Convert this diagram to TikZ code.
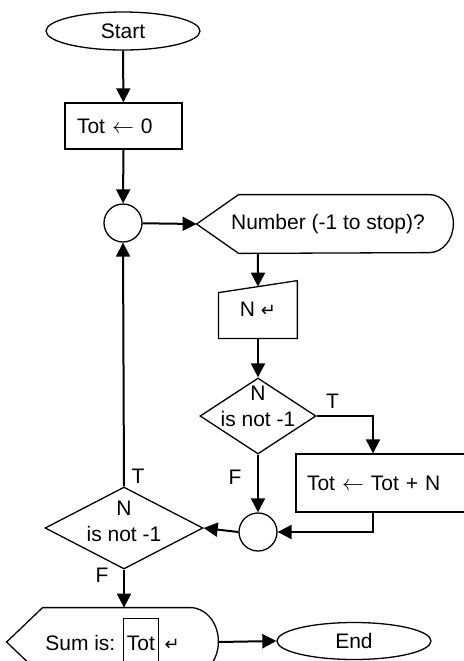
\documentclass[tikz,border=0pt]{standalone}
\usepackage{fontspec}
\setmainfont{Liberation Sans}
\newfontfamily\arrowfont{DejaVu Sans}
\usetikzlibrary{calc,shapes.geometric,arrows.meta}

\newcommand{\enterkey}{{\arrowfont\small ↵}}
\newcommand{\fieldbox}[1]{{\setlength{\fboxsep}{1.5pt}\fbox{\rule[-6pt]{0pt}{20pt}#1}}}

\tikzset{
  flow/.style={line width=1pt, -{Triangle[length=7pt,width=7pt]}},
  outline/.style={line width=0.65pt},
  terminal/.style={ellipse, draw, outline, minimum width=77pt, minimum height=19pt, inner sep=0pt},
  process/.style={rectangle, draw, outline, align=left},
  merge/.style={circle, draw, outline, minimum size=19pt, inner sep=0pt},
  cond/.style={diamond, draw, outline, inner sep=0pt},
  frame/.style={rectangle, inner sep=0pt},
}

\begin{document}
\begin{tikzpicture}[x=0.5pt, y=-0.5pt, font=\fontsize{10.5}{13}\selectfont]
  \useasboundingbox (0,0) rectangle (464,661);
  \clip (0,0) rectangle (464,661);

  \node[terminal] (start) at (123,31) {Start};
  \node[process, inner xsep=6pt, text width=46.5pt, minimum height=23pt] (init) at (123.5,126) {Tot $\leftarrow$ 0};
  \node[merge] (merge1) at (123,223) {};
  \node[frame, minimum width=125pt, minimum height=29pt] (ask) at (328,224) {Number (-1 to stop)?};
  \node[frame, minimum width=39pt, minimum height=28.5pt] (inp) at (258,309.5) {N \enterkey};
  \node[cond, minimum width=58pt, minimum height=38pt,
        label={[align=center, yshift=5pt]center:N\\is not -1}] (test1) at (258,416) {};
  \node[process, inner xsep=5.5pt, text width=76pt, minimum height=29pt] (add) at (383,483) {Tot $\leftarrow$ Tot + N};
  \node[merge] (merge2) at (258,532) {};
  \node[cond, minimum width=79pt, minimum height=41pt,
        label={[align=center, yshift=3.25pt]center:N\\is not -1}] (test2) at (124,528) {};
  \node[frame, minimum width=105.5pt, minimum height=34pt] (show) at (112.5,642) {Sum is: \fieldbox{Tot} \enterkey};
  \node[terminal, minimum height=18.5pt] (end) at (354,641) {End};

  \draw[outline] ([xshift=-3pt]ask.west) -- ([xshift=18pt]ask.north west) -- ([xshift=-12pt]ask.north east)
    arc[start angle=90, end angle=-90, x radius=12pt, y radius=14.5pt] -- ([xshift=18pt]ask.south west) -- cycle;
  \draw[outline] ([yshift=-6pt]inp.north west) -- (inp.north east) -- (inp.south east) -- (inp.south west) -- cycle;
  \draw[outline] (show.west) -- ([xshift=18pt]show.north west) -- ([xshift=-14pt]show.north east)
    arc[start angle=90, end angle=-90, x radius=14pt, y radius=17pt] -- ([xshift=18pt]show.south west) -- cycle;

  \coordinate (inptop) at ($(inp.north west)!0.5!(inp.north east)+(0,6)$);

  \draw[flow] (start) -- (init);
  \draw[flow] (init) -- (merge1);
  \draw[flow] (merge1) -- ([xshift=-3pt]ask.west);
  \draw[flow] (ask.south -| inp.north) -- (inptop);
  \draw[flow] (inp.south) -- (test1.north);
  \draw[flow] (test1.south) -- node[pos=0.4, left=4.5pt]{F} (merge2.north);
  \draw[flow] (test1.east) -| node[pos=0.14, above]{T} ([xshift=-5pt]add.north);
  \draw[flow] ([xshift=-5pt]add.south) |- (merge2.east);
  \draw[flow] (merge2.west) -- (test2.east);
  \draw[flow] (test2.north) -- node[pos=0.04, right]{T} (merge1.south);
  \draw[flow] (test2.south) -- node[pos=0.15, left=4pt]{F} (test2.south |- show.north);
  \draw[flow] (show.east) -- (end.west);
\end{tikzpicture}
\end{document}
